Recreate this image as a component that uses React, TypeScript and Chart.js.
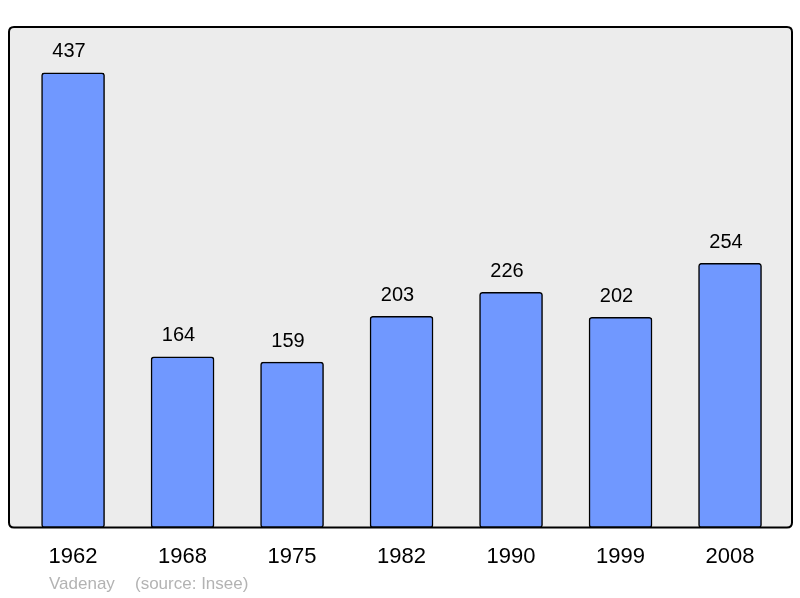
import React, { useEffect, useRef } from "react";
import { Chart, registerables } from "chart.js";

Chart.register(...registerables);

const years = ["1962", "1968", "1975", "1982", "1990", "1999", "2008"];
const population = [437, 164, 159, 203, 226, 202, 254];
const townName = "Vadenay";
const sourceText = "(source: Insee)";

const FONT = "'Liberation Sans', Arial, sans-serif";

function roundRect(ctx: CanvasRenderingContext2D, x: number, y: number, w: number, h: number, r: number) {
  ctx.beginPath();
  ctx.moveTo(x + r, y);
  ctx.lineTo(x + w - r, y);
  ctx.quadraticCurveTo(x + w, y, x + w, y + r);
  ctx.lineTo(x + w, y + h - r);
  ctx.quadraticCurveTo(x + w, y + h, x + w - r, y + h);
  ctx.lineTo(x + r, y + h);
  ctx.quadraticCurveTo(x, y + h, x, y + h - r);
  ctx.lineTo(x, y + r);
  ctx.quadraticCurveTo(x, y, x + r, y);
  ctx.closePath();
}

const framePlugin = {
  id: "frame",
  beforeDatasetsDraw(chart: any) {
    const { ctx, chartArea: a } = chart;
    ctx.save();
    roundRect(ctx, a.left, a.top, a.right - a.left, a.bottom - a.top, 5);
    ctx.fillStyle = "#ececec";
    ctx.fill();
    ctx.restore();
  },
  afterDatasetsDraw(chart: any) {
    const { ctx, chartArea: a } = chart;
    ctx.save();
    // value labels above bars (sit a little left of centre, as in the original)
    const meta = chart.getDatasetMeta(0);
    ctx.fillStyle = "#000";
    ctx.font = `20px ${FONT}`;
    ctx.textAlign = "center";
    ctx.textBaseline = "middle";
    meta.data.forEach((bar: any, i: number) => {
      ctx.fillText(String(population[i]), bar.x - 4, bar.y - 21);
    });
    // frame border
    roundRect(ctx, a.left, a.top, a.right - a.left, a.bottom - a.top, 5);
    ctx.strokeStyle = "#000";
    ctx.lineWidth = 2;
    ctx.stroke();
    // footer
    ctx.font = `17px ${FONT}`;
    ctx.fillStyle = "#b3b3b3";
    ctx.textAlign = "left";
    ctx.fillText(townName, 49, 584);
    ctx.fillText(sourceText, 135, 584);
    ctx.restore();
  },
};

const App: React.FC = () => {
  const canvasRef = useRef<HTMLCanvasElement | null>(null);

  useEffect(() => {
    if (!canvasRef.current) return;
    const chart = new Chart(canvasRef.current, {
      type: "bar",
      data: {
        datasets: [
          {
            data: population.map((v, i) => ({ x: i, y: v })),
            backgroundColor: "#7098ff",
            borderColor: "#000",
            borderWidth: 1.5,
            borderRadius: 3,
            borderSkipped: false,
            barThickness: 63,
          },
        ],
      },
      options: {
        animation: false,
        responsive: false,
        devicePixelRatio: 1,
        layout: { padding: { left: 9, right: 8, top: 27, bottom: 12 } },
        plugins: { legend: { display: false }, tooltip: { enabled: false } },
        scales: {
          x: {
            type: "linear",
            offset: false,
            min: -0.585,
            max: 6.566,
            afterBuildTicks: (axis: any) => {
              axis.ticks = years.map((_, i) => ({ value: i }));
            },
            grid: { display: false, drawTicks: false, tickLength: 0 },
            border: { display: false },
            ticks: {
              padding: 16,
              color: "#000",
              font: { family: FONT, size: 22 },
              maxRotation: 0,
              autoSkip: false,
              callback: (v: any) => years[v] ?? "",
            },
          },
          y: {
            display: false,
            min: 0,
            max: 481,
          },
        },
      },
      plugins: [framePlugin],
    });
    return () => chart.destroy();
  }, []);

  return (
    <div style={{ position: "fixed", left: 0, top: 0, width: 800, height: 598, background: "#fff" }}>
      <canvas ref={canvasRef} width={800} height={598} style={{ width: 800, height: 598 }} />
    </div>
  );
};

export default App;
